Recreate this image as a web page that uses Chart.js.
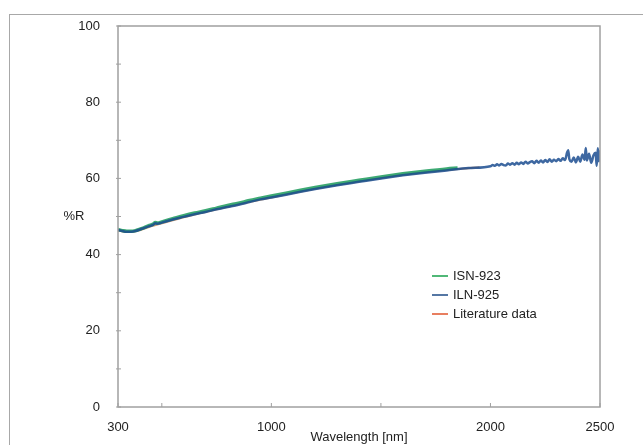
<!DOCTYPE html>
<html>
<head>
<meta charset="utf-8">
<script src="https://cdn.jsdelivr.net/npm/chart.js@4"></script>
<style>
  body { margin: 0; background: #fff; }
  #wrap { position: relative; width: 643px; height: 445px; }
  #frame { position: absolute; left: 9px; top: 14px; right: -10px; bottom: -10px;
           border-top: 1.5px solid #a8a8a8; border-left: 1.5px solid #a8a8a8; }
  canvas { position: absolute; left: 0; top: 0; }
</style>
</head>
<body>
<div id="wrap">
  <div id="frame"></div>
  <canvas id="spec" width="643" height="445"></canvas>
</div>
<script>
// wavelengths in nm, reflectance in %R
const wlMain = [300, 320, 340, 360, 380, 400, 420, 440, 460, 470, 480, 500, 550, 600, 650, 700, 750, 800,
  850, 900, 950, 1000, 1100, 1200, 1300, 1400, 1500, 1600, 1700, 1800, 1900, 2000];
const ilnMain = [46.5, 46.2, 46.0, 46.0, 46.2, 46.6, 47.0, 47.4, 47.8, 48.2, 48.1, 48.4, 49.2, 49.9, 50.6, 51.2, 51.9, 52.5,
  53.1, 53.8, 54.5, 55.0, 56.1, 57.2, 58.2, 59.1, 60.0, 60.8, 61.5, 62.1, 62.7, 63.2];

const wlTail = [2010, 2020, 2030, 2040, 2050, 2060, 2070, 2080, 2090, 2100, 2110, 2120, 2130, 2140, 2150, 2160,
  2170, 2180, 2190, 2200, 2210, 2220, 2230, 2240, 2250, 2260, 2270, 2280, 2290, 2300, 2310, 2320, 2330, 2340,
  2350, 2355, 2360, 2370, 2380, 2390, 2400, 2410, 2420, 2430, 2435, 2440, 2450, 2460, 2470, 2480, 2485, 2490, 2495, 2500];
const ilnTail = [63.5, 63.3, 63.7, 63.4, 63.8, 63.5, 63.4, 63.9, 63.6, 64.0, 63.6, 64.1, 63.7, 64.2, 63.8, 64.4,
  63.9, 64.3, 64.5, 64.0, 64.6, 64.1, 64.7, 64.2, 64.8, 64.3, 65.0, 64.4, 64.9, 64.5, 65.1, 64.6, 65.3, 64.8,
  66.8, 67.4, 65.1, 64.4, 65.5, 64.2, 65.7, 64.4, 66.3, 64.9, 68.0, 64.7, 66.5, 64.1, 66.0, 66.7, 63.3, 67.9, 64.5, 67.4];

const wlIsn = [300, 320, 340, 360, 380, 400, 420, 440, 460, 470, 480, 500, 550, 600, 650, 700, 750, 800,
  850, 900, 950, 1000, 1100, 1200, 1300, 1400, 1500, 1600, 1700, 1800, 1850];
const isnVals = [46.6, 46.3, 46.1, 46.1, 46.3, 46.7, 47.1, 47.6, 48.0, 48.4, 48.3, 48.6, 49.4, 50.2, 50.9, 51.5, 52.2, 52.9,
  53.5, 54.2, 54.8, 55.4, 56.5, 57.6, 58.6, 59.5, 60.4, 61.2, 61.9, 62.5, 62.7];

const wlLit = [300, 350, 400, 450, 500, 600, 700, 800, 900, 1000, 1200, 1400, 1600, 1800, 1950];
const litVals = [46.3, 45.9, 46.4, 47.4, 48.2, 49.8, 51.2, 52.5, 53.8, 55.0, 57.3, 59.2, 60.9, 62.2, 62.9];

const xTicks = [300, 500, 1000, 1500, 2000, 2500];
const xLabels = [300, 1000, 2000, 2500];

const pts = (xs, ys) => xs.map((x, i) => ({ x: x, y: ys[i] }));

const font = { family: "'Liberation Sans', Arial, sans-serif", size: 13 };

const decor = {
  id: "decor",
  afterDraw(chart) {
    const ctx = chart.ctx, a = chart.chartArea;
    const xs = chart.scales.x, ys = chart.scales.y;
    ctx.save();
    ctx.strokeStyle = "#a0a0a0";
    ctx.lineWidth = 1.5;
    ctx.strokeRect(a.left, a.top, a.right - a.left, a.bottom - a.top);
    ctx.lineWidth = 1;
    xTicks.forEach(v => {
      const px = xs.getPixelForValue(v);
      ctx.beginPath(); ctx.moveTo(px, a.bottom); ctx.lineTo(px, a.bottom - 4); ctx.stroke();
    });
    for (let v = 0; v <= 100; v += 10) {
      const py = ys.getPixelForValue(v);
      ctx.beginPath(); ctx.moveTo(a.left - 2, py); ctx.lineTo(a.left + 3, py); ctx.stroke();
    }
    ctx.fillStyle = "#222";
    ctx.font = "13px " + font.family;
    ctx.textAlign = "center";
    ctx.textBaseline = "middle";
    ctx.fillText("%R", 74, (a.top + a.bottom) / 2);

    // legend inside the plot
    ctx.textAlign = "left";
    const lx = a.left + 314, ly = a.top + 250;
    chart.data.datasets.forEach((ds, i) => {
      const y = ly + i * 19;
      ctx.strokeStyle = ds.legendColor;
      ctx.lineWidth = 1.5;
      ctx.beginPath(); ctx.moveTo(lx, y); ctx.lineTo(lx + 16, y); ctx.stroke();
      ctx.fillText(ds.label, lx + 21, y);
    });
    ctx.restore();
  }
};

new Chart(document.getElementById("spec"), {
  type: "line",
  data: {
    datasets: [
      {
        label: "ISN-923",
        data: pts(wlIsn, isnVals),
        borderColor: "rgba(40,160,100,0.9)",
        legendColor: "#16a04a",
        borderWidth: 3.5,
        cubicInterpolationMode: "monotone",
        order: 2
      },
      {
        label: "ILN-925",
        data: pts(wlMain.concat(wlTail), ilnMain.concat(ilnTail)),
        borderColor: "rgba(28,78,145,0.85)",
        legendColor: "#1d4a86",
        borderWidth: 2.5,
        cubicInterpolationMode: "monotone",
        order: 1
      },
      {
        label: "Literature data",
        data: pts(wlLit, litVals),
        borderColor: "rgba(180,110,60,0.7)",
        legendColor: "#e0552b",
        borderWidth: 2,
        cubicInterpolationMode: "monotone",
        order: 3
      }
    ]
  },
  options: {
    animation: false,
    responsive: false,
    events: [],
    elements: { point: { radius: 0 } },
    layout: { padding: { top: 26, right: 43, left: 0, bottom: 0 } },
    plugins: { legend: { display: false }, tooltip: { enabled: false } },
    scales: {
      x: {
        type: "linear",
        min: 300,
        max: 2500,
        afterBuildTicks: s => { s.ticks = xTicks.map(v => ({ value: v })); },
        afterFit: s => { s.height = 38; },
        grid: { display: false },
        border: { display: false },
        ticks: {
          font: font,
          color: "#222",
          padding: 5,
          maxRotation: 0,
          autoSkip: false,
          callback: v => (xLabels.includes(v) ? String(v) : "")
        },
        title: { display: true, text: "Wavelength [nm]", font: font, color: "#222", padding: { top: 0, bottom: 0 } }
      },
      y: {
        min: 0,
        max: 100,
        afterFit: s => { s.width = 118; },
        grid: { display: false },
        border: { display: false },
        ticks: {
          stepSize: 20,
          font: font,
          color: "#222",
          padding: 10
        }
      }
    }
  },
  plugins: [decor]
});
</script>
</body>
</html>
